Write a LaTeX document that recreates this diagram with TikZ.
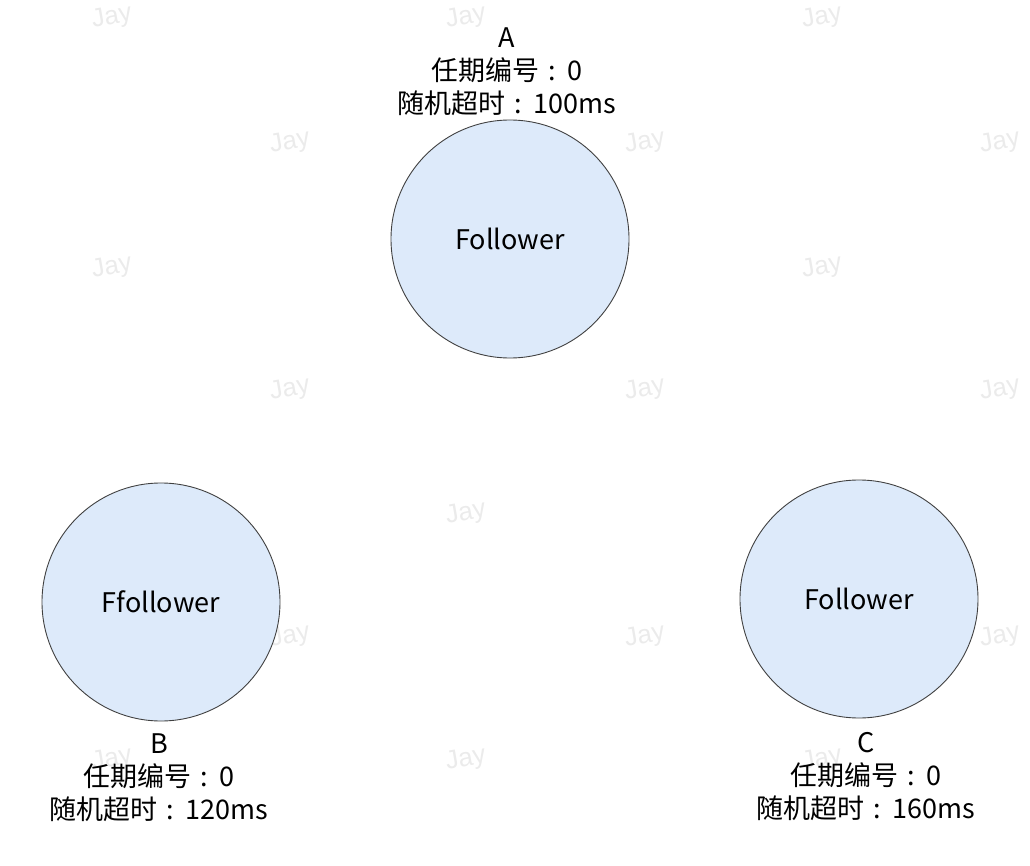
\documentclass[tikz,border=0pt]{standalone}
\usepackage{fontspec}
\setmainfont{Noto Sans CJK SC}
\newfontfamily\cjk{Noto Sans CJK SC}
\newfontfamily\wmfont{Liberation Sans}
\newcommand\mycolon{\hspace{0.32em}:\hspace{0.42em}}
\begin{document}
\begin{tikzpicture}[x=1pt,y=-1pt,
  nodecirc/.style={circle,draw=black!75,line width=0.9pt,fill={rgb,255:red,221;green,234;blue,250},minimum size=238pt,inner sep=0pt,font=\cjk\fontsize{27}{30}\selectfont},
  infolabel/.style={align=center,font=\cjk\fontsize{27}{33}\selectfont,inner sep=0pt},
  wm/.style={text=black!8,rotate=10,font=\wmfont\fontsize{26}{28}\selectfont,inner sep=0pt}
]
\useasboundingbox (0,0) rectangle (1030,866);
% watermarks
\foreach \x in {112,466,822}{\foreach \y in {18,268,514,760}{\node[wm] at (\x,\y) {Jay};}}
\foreach \x in {290,645,1000}{\foreach \y in {143,390,637}{\node[wm] at (\x,\y) {Jay};}}
% nodes
\node[nodecirc] (A) at (510,239) {Follower};
\node[nodecirc] (B) at (161,602) {Ffollower};
\node[nodecirc] (C) at (859,599) {Follower};
% labels
\node[infolabel] (la) at (507,72) {A\\任期编号\mycolon 0\\随机超时\mycolon 100ms};
\node[infolabel] (lb) at (159,778) {B\\任期编号\mycolon 0\\随机超时\mycolon 120ms};
\node[infolabel] (lc) at (866,777) {C\\任期编号\mycolon 0\\随机超时\mycolon 160ms};
\end{tikzpicture}
\end{document}
